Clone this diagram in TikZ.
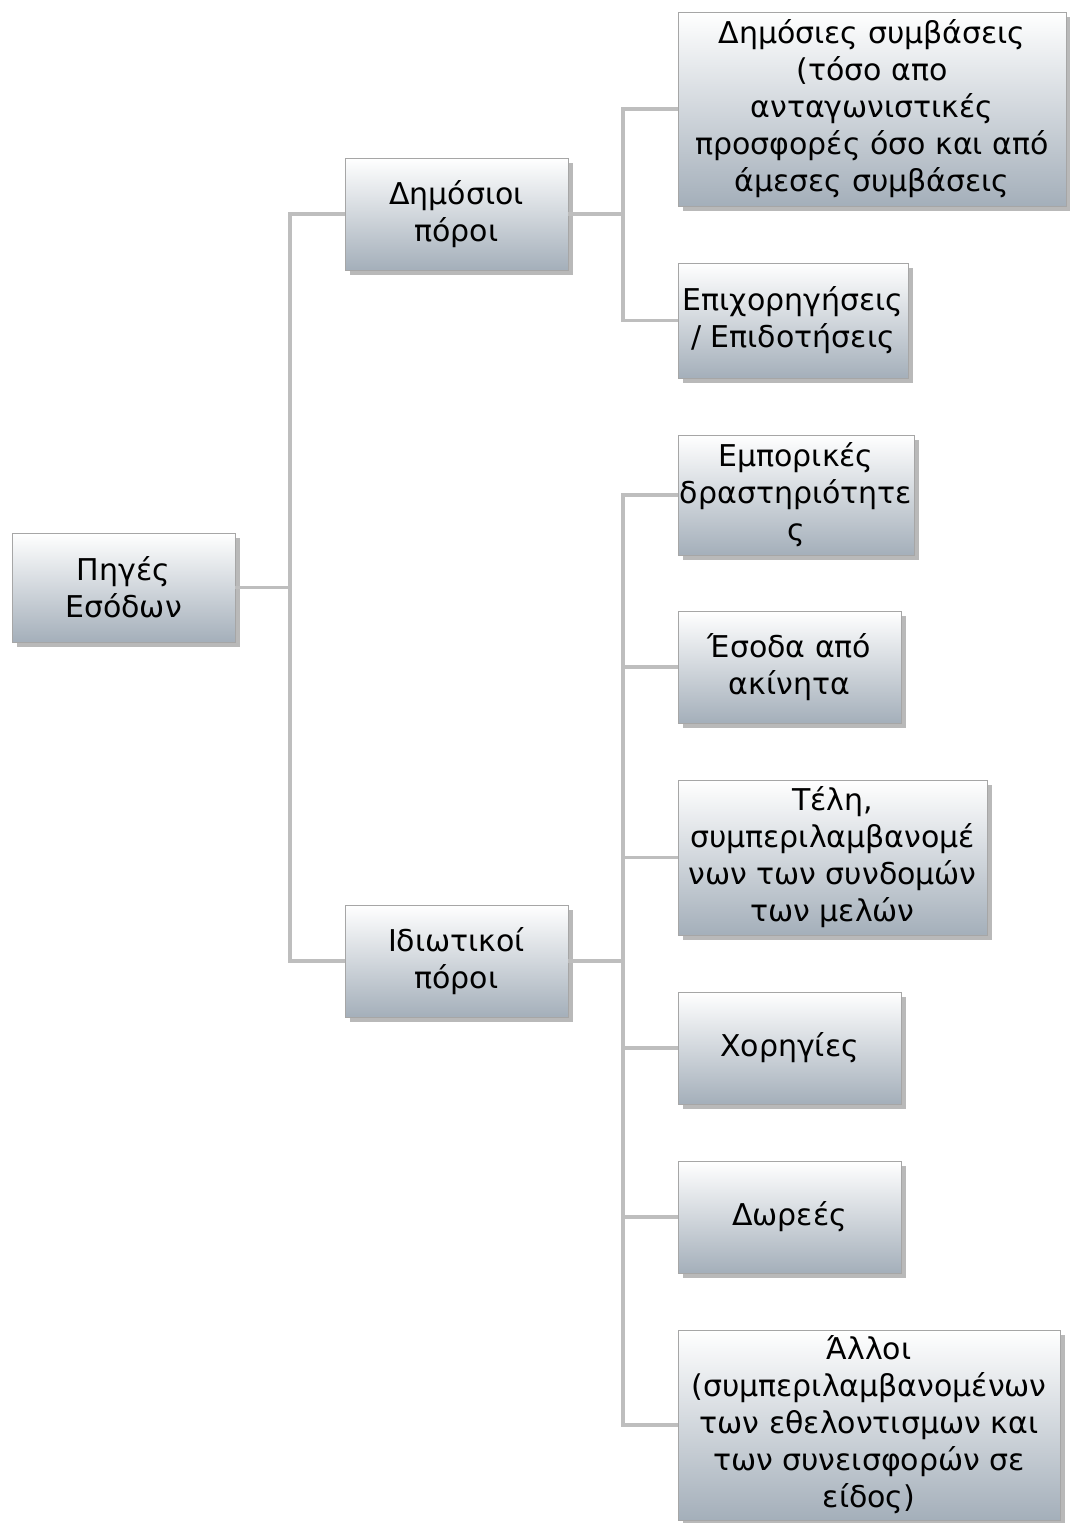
\documentclass[tikz,border=0pt]{standalone}
\usepackage{fontspec}
\setmainfont{DejaVu Sans}
\usetikzlibrary{calc,shadows}
\definecolor{boxgray}{RGB}{164,175,186}
\definecolor{linegray}{RGB}{190,190,190}
\tikzset{
	srcbox/.style={draw=gray!70, line width=0.8pt, top color=white, bottom color=boxgray,
		drop shadow={shadow xshift=5pt, shadow yshift=-5pt, opacity=0.55},
		align=center, inner sep=0pt, font=\fontsize{30}{37}\selectfont},
	conn/.style={draw=linegray, line width=3.5pt}
}
\begin{document}
\begin{tikzpicture}[x=1pt, y=-1pt]
		%%%%% START %%%%%
		\useasboundingbox (0, 0) rectangle (1069, 1523);
		
		\coordinate (j1) at (290, 587.5);
		\coordinate (j2) at (623, 214);
		\coordinate (j3) at (623, 961);
		
		\node[srcbox, minimum width=223, minimum height=109] (src) at (123.5, 587.5) {Πηγές\\Εσόδων};
		
		\node[srcbox, minimum width=223, minimum height=112] (pub) at (456.5, 214) {Δημόσιοι\\πόροι};
		\node[srcbox, minimum width=223, minimum height=112] (priv) at (456.5, 961) {Ιδιωτικοί\\πόροι};
		
		\node[srcbox, minimum width=388, minimum height=194] (contr) at (872, 109) {Δημόσιες συμβάσεις\\(τόσο απο\\ανταγωνιστικές\\προσφορές όσο και από\\άμεσες συμβάσεις};
		\node[srcbox, minimum width=230, minimum height=115] (grant) at (793, 320.5) {Επιχορηγήσεις\\/ Επιδοτήσεις};
		
		\node[srcbox, minimum width=236, minimum height=120] (trade) at (796, 495) {Εμπορικές\\δραστηριότητε\\ς};
		\node[srcbox, minimum width=223, minimum height=112] (rent) at (789.5, 667) {Έσοδα από\\ακίνητα};
		\node[srcbox, minimum width=309, minimum height=155] (fees) at (832.5, 857.5) {Τέλη,\\συμπεριλαμβανομέ\\νων των συνδομών\\των μελών};
		\node[srcbox, minimum width=223, minimum height=112] (spons) at (789.5, 1048) {Χορηγίες};
		\node[srcbox, minimum width=223, minimum height=112] (donat) at (789.5, 1217) {Δωρεές};
		\node[srcbox, minimum width=382, minimum height=190] (other) at (869, 1425) {Άλλοι\\(συμπεριλαμβανομένων\\των εθελοντισμων και\\των συνεισφορών σε\\είδος)};
		
		% tree lines
		\draw[conn] (src.east) -- (j1);
		\draw[conn] (j1) |- (pub.west);
		\draw[conn] (j1) |- (priv.west);
		
		\draw[conn] (pub.east) -- (j2);
		\draw[conn] (j2) |- (contr.west);
		\draw[conn] (j2) |- (grant.west);
		
		\draw[conn] (priv.east) -- (j3);
		\foreach \n in {trade, rent, fees, spons, donat, other}
			\draw[conn] (j3) |- (\n.west);
		
		%%%%% END %%%%%
	\end{tikzpicture}
\end{document}
